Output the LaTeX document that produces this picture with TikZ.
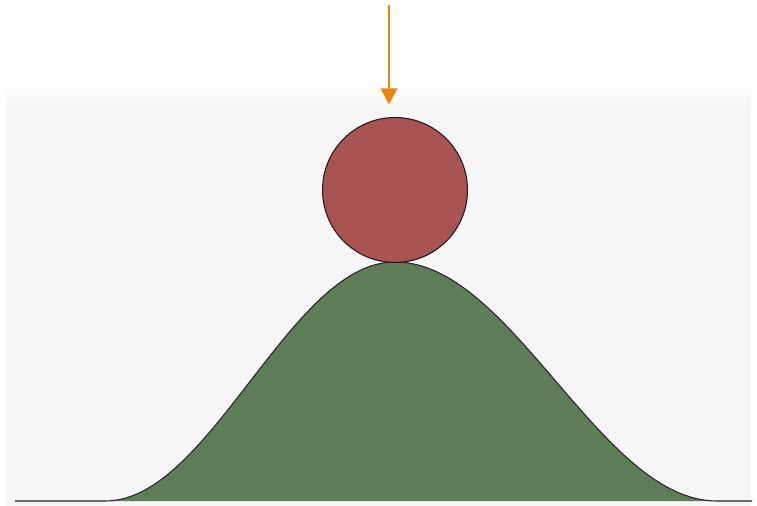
\documentclass[tikz,border=0pt]{standalone}
\usepackage{xcolor}
\usepackage{tikz}
\usetikzlibrary{arrows.meta,positioning,calc}
\definecolor{ballred}{RGB}{168,84,84}
\definecolor{hillgreen}{RGB}{94,125,88}
\definecolor{pushorange}{RGB}{232,135,14}
\definecolor{panelgray}{RGB}{246,246,246}

% raised-cosine hill, left flank narrower than right one
\newcommand{\hillline}{(15,501)
  -- plot[domain=105:395,samples=70] (\x,{501-119.5*(1+cos((395-\x)/290*180))})
  -- plot[domain=395:717,samples=70] (\x,{501-119.5*(1+cos((\x-395)/322*180))})
  -- (752,501)}

\begin{document}
\begin{tikzpicture}[x=0.02cm,y=-0.02cm,
  ball/.style={circle,draw=black!75!ballred,fill=ballred,line width=0.6pt,
               minimum size=2.9cm,inner sep=0pt},
  hill/.style={draw=black!85,line width=0.6pt},
  push/.style={-{Triangle[length=0.32cm,width=0.32cm]},line width=1.6pt,draw=pushorange}
]
\useasboundingbox (0,0) rectangle (757,506);
\shade[top color=white,bottom color=panelgray] (6,84) rectangle (751,108);
\fill[panelgray] (6,108) rectangle (751,506);

% hill
\fill[hillgreen] \hillline -- cycle;
\draw[hill] \hillline;

\node[ball] (ball) at (395,190) {};
\coordinate (pushtop) at (389,5);
\draw[push,shorten >=0.25cm] (pushtop) -- (pushtop |- ball.north);
\end{tikzpicture}
\end{document}
